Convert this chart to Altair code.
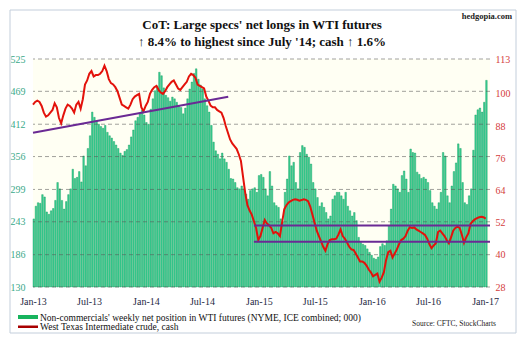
import altair as alt
import pandas as pd

# Weekly non-commercial net longs in WTI futures (000), from first week of Jan 2013
net_longs = [
    248, 270, 276, 275, 290, 286, 260, 256, 262, 266,
    280, 311, 300, 280, 265, 278, 290, 300, 334, 318,
    320, 330, 312, 357, 340, 370, 392, 433, 424, 418,
    412, 408, 405, 410, 398, 392, 388, 382, 376, 370,
    362, 358, 365, 368, 376, 390, 402, 418, 424, 430,
    436, 428, 415, 412, 438, 456, 470, 478, 502, 496,
    475, 462, 458, 452, 459, 456, 450, 444, 441, 430,
    440, 456, 473, 485, 500, 508, 490, 480, 473, 456,
    444, 433, 410, 381, 366, 360, 352, 362, 352, 346,
    334, 318, 317, 311, 302, 300, 305, 300, 291, 282,
    297, 300, 302, 294, 323, 325, 320, 300, 288, 330,
    305, 276, 271, 268, 248, 242, 294, 317, 357, 340,
    346, 311, 300, 363, 375, 372, 360, 355, 343, 311,
    300, 285, 270, 276, 268, 259, 248, 253, 282, 288,
    294, 294, 288, 282, 294, 270, 262, 253, 259, 245,
    216, 207, 204, 202, 196, 190, 185, 180, 178, 182,
    200, 205, 202, 210, 236, 265, 308, 305, 300, 294,
    323, 331, 317, 294, 369, 363, 362, 329, 325, 318,
    320, 317, 311, 297, 276, 270, 265, 276, 294, 363,
    357, 288, 276, 305, 330, 345, 378, 370, 311, 276,
    273, 288, 300, 367, 428, 437, 440, 433, 450, 488,
]

# Weekly WTI cash price ($/bbl)
wti_cash = [
    96, 97, 97.5, 97, 95.5, 93, 91.5, 92, 93, 94,
    96.5, 95, 91, 89, 92, 94.5, 96, 95.5, 94.5, 93,
    96, 97, 94.5, 98, 103.5, 105, 107.5, 108.5, 106.5, 107,
    107, 107.5, 108.5, 110.5, 108.5, 105.5, 104, 103.5, 102.5, 101,
    98.5, 96, 95.5, 95, 94.5, 96, 98, 99, 99.5, 100,
    95, 93.5, 95.5, 97, 100, 101.5, 102.5, 103, 101.5, 100.5,
    100, 101, 102.5, 103.5, 104.5, 105, 103.5, 102, 101.5, 102.5,
    103.5, 104.5, 106.5, 107.5, 107, 106, 103.5, 103, 102.5, 102,
    99, 97.5, 95.6, 95, 95, 94, 93.5, 93, 91, 88,
    85.5, 83, 81.5, 80.5, 79.5, 77.5, 75, 69, 63, 58.5,
    56.5, 55, 52.5, 50, 45.5, 47, 50, 53, 51.7, 51,
    50, 48, 48.5, 48, 47, 52, 57, 58.5, 59.5, 60,
    60.5, 60.7, 60.5, 60.2, 60.4, 60.7, 60.5, 60, 58, 55,
    52, 49, 47, 45, 43, 41.5, 44, 45.5, 45.8, 45.8,
    46, 47.5, 49.5, 47, 46, 44.6, 43, 42, 41.8, 40.5,
    39, 37.5, 37.5, 37, 36, 34.5, 33.5, 32, 32.5, 33,
    30, 31.5, 33.5, 38, 41, 41.5, 39, 40.5, 42, 44,
    45.5, 46, 47, 49, 50.3, 50, 50.2, 49.5, 49, 48.5,
    48, 47.4, 46, 44, 42.5, 43.5, 44.3, 48.5, 49, 48,
    47, 45.5, 44.3, 46.5, 49, 50, 50.5, 50, 47.5, 44.5,
    46.5, 48, 51.5, 52.5, 53.2, 53.7, 54, 54.2, 54, 53.5,
]

left_ticks = [130, 186, 243, 299, 356, 412, 469, 525]
right_ticks = [28, 40, 52, 64, 76, 88, 100, 113]
x_tick_months = [(2013, 1), (2013, 7), (2014, 1), (2014, 7), (2015, 1),
                 (2015, 7), (2016, 1), (2016, 7), (2017, 1)]

# purple trend / range lines (right axis)
trend_start = ["2013-01-01", "2014-12-16", "2014-12-16"]
trend_end = ["2014-09-24", "2017-01-17", "2017-01-17"]
trend_y1 = [85.5, 50.9, 44.9]
trend_y2 = [98.9, 50.9, 44.9]

title_lines = ["CoT: Large specs' net longs in WTI futures",
               "\u2191 8.4% to highest since July '14; cash \u2191 1.6%"]
legend_labels = ["Non-commercials' weekly net position in WTI futures (NYME, ICE combined; 000)",
                 "West Texas Intermediate crude, cash"]
source_text = ["Source: CFTC, StockCharts"]
brand_text = ["hedgopia.com"]

FONT = "Liberation Serif"

dates = pd.date_range("2013-01-01", periods=len(net_longs), freq="7D")
df = pd.DataFrame({
    "date": dates,
    "date_end": dates + pd.Timedelta(days=5),
    "net": net_longs,
    "wti": wti_cash,
})
trend_df = pd.DataFrame({"s": pd.to_datetime(trend_start), "e": pd.to_datetime(trend_end),
                         "y1": trend_y1, "y2": trend_y2})
grid_df = pd.DataFrame({"v": left_ticks})

x_dom = [alt.DateTime(year=2013, month=1, date=1), alt.DateTime(year=2017, month=1, date=17)]
x_vals = [alt.DateTime(year=y, month=m, date=1) for (y, m) in x_tick_months]
x_scale = alt.Scale(domain=x_dom)
x_axis = alt.Axis(values=x_vals, format="%b-%y", grid=False, domain=False, ticks=False,
                  labelFont=FONT, labelFontSize=10, labelColor="#1f2a44", labelPadding=9,
                  title=None, labelFlush=False, labelOverlap=False)

left_scale = alt.Scale(domain=[130, 525], nice=False, zero=False)
right_scale = alt.Scale(domain=[28, 113], nice=False, zero=False)

left_axis = alt.Axis(values=left_ticks, grid=False, domain=False, ticks=False,
                     labelOverlap=False, labelFont=FONT, labelFontSize=10,
                     labelColor="#3aa98a", labelPadding=8, title=None)
right_axis = alt.Axis(values=right_ticks, orient="right", grid=False, domain=False,
                      ticks=False, labelOverlap=False, labelFont=FONT, labelFontSize=10,
                      labelColor="#d43c3c", labelPadding=5, title=None)

bars = alt.Chart(df).mark_bar(fill="#3ccf94", stroke="#0e9b5c", strokeWidth=0.4).encode(
    x=alt.X("date:T", scale=x_scale, axis=x_axis),
    x2="date_end:T",
    y=alt.Y("net:Q", scale=left_scale, axis=left_axis),
    y2=alt.datum(130),
)

grid = alt.Chart(grid_df).mark_rule(color="#555555", opacity=0.55, strokeDash=[4, 3],
                                    strokeWidth=1).encode(
    y=alt.Y("v:Q", scale=left_scale, axis=left_axis)
)

left_layer = alt.layer(bars, grid)

price = alt.Chart(df).mark_line(color="#e3120b", strokeWidth=2).encode(
    x=alt.X("date:T", scale=x_scale, axis=x_axis),
    y=alt.Y("wti:Q", scale=right_scale, axis=right_axis),
)

trends = alt.Chart(trend_df).mark_rule(color="#6a2a94", strokeWidth=2).encode(
    x="s:T", x2="e:T", y=alt.Y("y1:Q", axis=right_axis), y2="y2:Q"
)

right_layer = alt.layer(price, trends)

frame = alt.Chart(pd.DataFrame({"k": [0]})).mark_rect(
    fill=None, stroke="#c3cedb", strokeWidth=1).encode(
    x=alt.value(-23), x2=alt.value(483), y=alt.value(-49), y2=alt.value(274))

title1 = alt.Chart(pd.DataFrame({"t": [title_lines[0]]})).mark_text(
    font=FONT, fontSize=13, fontWeight="bold", color="#111111", align="center",
    baseline="middle").encode(text="t:N", x=alt.value(229), y=alt.value(-34))
title2 = alt.Chart(pd.DataFrame({"t": [title_lines[1]]})).mark_text(
    font=FONT, fontSize=13, fontWeight="bold", color="#111111", align="center",
    baseline="middle").encode(text="t:N", x=alt.value(229), y=alt.value(-17))
brand = alt.Chart(pd.DataFrame({"t": brand_text})).mark_text(
    font=FONT, fontSize=8.5, fontWeight="bold", color="#222222", align="right",
    baseline="middle").encode(text="t:N", x=alt.value(479), y=alt.value(-43))

leg_green = alt.Chart(pd.DataFrame({"k": [0]})).mark_rect(fill="#18b45e").encode(
    x=alt.value(-15), x2=alt.value(5), y=alt.value(256), y2=alt.value(260))
leg_red = alt.Chart(pd.DataFrame({"k": [0]})).mark_rect(fill="#a80000").encode(
    x=alt.value(-15), x2=alt.value(5), y=alt.value(266.5), y2=alt.value(269))
leg_t1 = alt.Chart(pd.DataFrame({"t": [legend_labels[0]]})).mark_text(
    font=FONT, fontSize=9.5, color="#111111", align="left", baseline="middle").encode(
    text="t:N", x=alt.value(7), y=alt.value(258.5))
leg_t2 = alt.Chart(pd.DataFrame({"t": [legend_labels[1]]})).mark_text(
    font=FONT, fontSize=9.5, color="#111111", align="left", baseline="middle").encode(
    text="t:N", x=alt.value(7), y=alt.value(268))
src = alt.Chart(pd.DataFrame({"t": source_text})).mark_text(
    font=FONT, fontSize=7.5, color="#222222", align="right", baseline="middle").encode(
    text="t:N", x=alt.value(463), y=alt.value(265))

chart = alt.layer(
    left_layer, right_layer, frame, title1, title2, brand,
    leg_green, leg_red, leg_t1, leg_t2, src
).resolve_scale(y="independent").properties(
    width=457, height=228,
    padding={"left": 33, "top": 59, "right": 35, "bottom": 56},
    autosize=alt.AutoSizeParams(type="none"),
    background="white",
).configure_view(fill="#fffff3", strokeWidth=0)

chart.save("out.html", embed_options={"renderer": "svg", "actions": False})
